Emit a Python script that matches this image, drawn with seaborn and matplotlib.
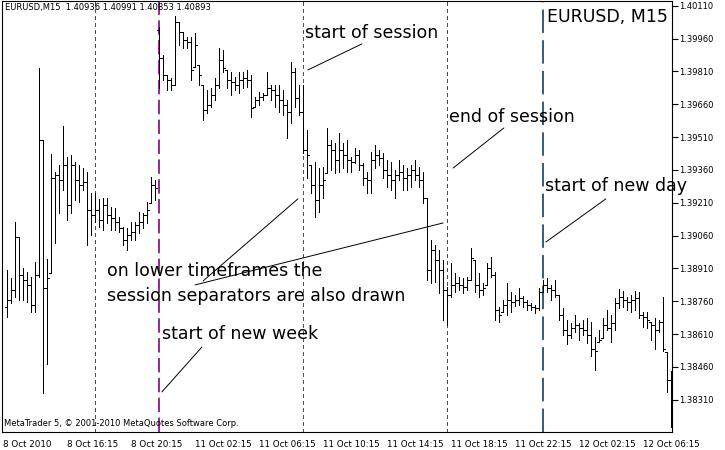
import matplotlib
matplotlib.use('Agg')
import matplotlib.pyplot as plt
import seaborn as sns
import pandas as pd

# EURUSD M15 bars, 8 Oct 2010 12:15 .. 12 Oct 2010 (bar index 0..166)
highs = [
    1.38903, 1.38867, 1.39123, 1.39054, 1.38912, 1.38894, 1.38871, 1.38940, 1.39826, 1.39497,
    1.38953, 1.39433, 1.39351, 1.39383, 1.39561, 1.39420, 1.39429, 1.39397, 1.39383, 1.39369,
    1.39351, 1.39255, 1.39255, 1.39228, 1.39232, 1.39232, 1.39191, 1.39186, 1.39145, 1.39100,
    1.39095, 1.39123, 1.39123, 1.39168, 1.39164, 1.39214, 1.39328, 1.39314, 1.40014, 1.39886,
    1.39794, 1.39781, 1.40064, 1.40036, 1.39991, 1.39968, 1.39968, 1.39986, 1.39840, 1.39749,
    1.39726, 1.39735, 1.39781, 1.39918, 1.39909, 1.39817, 1.39808, 1.39785, 1.39808, 1.39808,
    1.39817, 1.39794, 1.39694, 1.39717, 1.39712, 1.39808, 1.39749, 1.39749, 1.39749, 1.39726,
    1.39680, 1.39854, 1.39826, 1.39749, 1.39749, 1.39543, 1.39383, 1.39397, 1.39369, 1.39374,
    1.39552, 1.39497, 1.39484, 1.39529, 1.39484, 1.39497, 1.39420, 1.39461, 1.39452, 1.39392,
    1.39351, 1.39442, 1.39474, 1.39452, 1.39438, 1.39406, 1.39397, 1.39360, 1.39406, 1.39383,
    1.39369, 1.39383, 1.39406, 1.39374, 1.39351, 1.39232, 1.39040, 1.39017, 1.38995, 1.38949,
    1.38825, 1.38935, 1.38889, 1.38871, 1.38867, 1.38871, 1.39004, 1.38949, 1.38889, 1.38844,
    1.38935, 1.38963, 1.38894, 1.38734, 1.38766, 1.38844, 1.38803, 1.38789, 1.38821, 1.38784,
    1.38766, 1.38752, 1.38743, 1.38821, 1.38857, 1.38867, 1.38835, 1.38857, 1.38789, 1.38729,
    1.38675, 1.38661, 1.38697, 1.38661, 1.38675, 1.38684, 1.38666, 1.38597, 1.38629, 1.38684,
    1.38720, 1.38697, 1.38775, 1.38816, 1.38807, 1.38780, 1.38789, 1.38807, 1.38803, 1.38711,
    1.38711, 1.38666, 1.38684, 1.38675, 1.38780, 1.38528, 1.38441,
]
lows = [
    1.38688, 1.38752, 1.38780, 1.38766, 1.38766, 1.38757, 1.38711, 1.38711, 1.38871, 1.38341,
    1.38473, 1.38889, 1.39027, 1.39164, 1.39269, 1.39132, 1.39164, 1.39223, 1.39214, 1.39269,
    1.39017, 1.39063, 1.39123, 1.39100, 1.39086, 1.39118, 1.39086, 1.39086, 1.39077, 1.39017,
    1.38995, 1.39040, 1.39040, 1.39072, 1.39095, 1.39118, 1.39209, 1.39223, 1.39735, 1.39771,
    1.39726, 1.39726, 1.39749, 1.39931, 1.39918, 1.39918, 1.39771, 1.39831, 1.39749, 1.39589,
    1.39621, 1.39648, 1.39680, 1.39735, 1.39808, 1.39735, 1.39703, 1.39726, 1.39712, 1.39735,
    1.39739, 1.39602, 1.39648, 1.39657, 1.39680, 1.39703, 1.39680, 1.39648, 1.39625, 1.39611,
    1.39506, 1.39575, 1.39648, 1.39611, 1.39438, 1.39324, 1.39255, 1.39145, 1.39168, 1.39232,
    1.39346, 1.39360, 1.39346, 1.39351, 1.39369, 1.39351, 1.39351, 1.39392, 1.39360, 1.39292,
    1.39255, 1.39255, 1.39369, 1.39383, 1.39324, 1.39283, 1.39269, 1.39232, 1.39314, 1.39269,
    1.39269, 1.39283, 1.39314, 1.39283, 1.39209, 1.38857, 1.38844, 1.38848, 1.38798, 1.38675,
    1.38652, 1.38780, 1.38803, 1.38812, 1.38798, 1.38812, 1.38857, 1.38803, 1.38780, 1.38789,
    1.38835, 1.38871, 1.38675, 1.38666, 1.38711, 1.38697, 1.38711, 1.38739, 1.38743, 1.38734,
    1.38720, 1.38720, 1.38707, 1.38720, 1.38803, 1.38803, 1.38766, 1.38780, 1.38675, 1.38606,
    1.38563, 1.38592, 1.38620, 1.38583, 1.38606, 1.38570, 1.38509, 1.38446, 1.38574, 1.38592,
    1.38629, 1.38574, 1.38629, 1.38729, 1.38734, 1.38720, 1.38711, 1.38720, 1.38684, 1.38643,
    1.38638, 1.38583, 1.38541, 1.38620, 1.38532, 1.38346, 1.38186,
]
opens = [
    1.38734, 1.38766, 1.38812, 1.39054, 1.38880, 1.38857, 1.38835, 1.38743, 1.38880, 1.39497,
    1.38821, 1.38889, 1.39324, 1.39337, 1.39314, 1.39383, 1.39200, 1.39383, 1.39314, 1.39292,
    1.39305, 1.39177, 1.39154, 1.39177, 1.39132, 1.39200, 1.39154, 1.39141, 1.39123, 1.39095,
    1.39040, 1.39063, 1.39077, 1.39109, 1.39123, 1.39154, 1.39209, 1.39292, 1.40000, 1.39872,
    1.39794, 1.39771, 1.39749, 1.40036, 1.39991, 1.39954, 1.39945, 1.39831, 1.39840, 1.39749,
    1.39634, 1.39657, 1.39703, 1.39749, 1.39863, 1.39817, 1.39771, 1.39762, 1.39749, 1.39771,
    1.39781, 1.39771, 1.39648, 1.39680, 1.39694, 1.39703, 1.39735, 1.39726, 1.39703, 1.39680,
    1.39657, 1.39625, 1.39808, 1.39689, 1.39625, 1.39452, 1.39383, 1.39292, 1.39223, 1.39292,
    1.39346, 1.39474, 1.39452, 1.39406, 1.39452, 1.39429, 1.39406, 1.39397, 1.39429, 1.39383,
    1.39324, 1.39314, 1.39406, 1.39429, 1.39415, 1.39360, 1.39337, 1.39314, 1.39337, 1.39351,
    1.39324, 1.39337, 1.39360, 1.39337, 1.39314, 1.39232, 1.38903, 1.38995, 1.38949, 1.38903,
    1.38812, 1.38789, 1.38835, 1.38844, 1.38835, 1.38825, 1.38857, 1.38949, 1.38835, 1.38812,
    1.38835, 1.38912, 1.38880, 1.38720, 1.38711, 1.38743, 1.38766, 1.38757, 1.38766, 1.38775,
    1.38757, 1.38743, 1.38734, 1.38729, 1.38803, 1.38835, 1.38821, 1.38812, 1.38789, 1.38697,
    1.38629, 1.38606, 1.38638, 1.38652, 1.38638, 1.38629, 1.38606, 1.38541, 1.38574, 1.38592,
    1.38652, 1.38638, 1.38661, 1.38752, 1.38780, 1.38766, 1.38757, 1.38766, 1.38775, 1.38697,
    1.38688, 1.38666, 1.38652, 1.38629, 1.38666, 1.38528, 1.38400,
]
closes = [
    1.38766, 1.38812, 1.39054, 1.38880, 1.38857, 1.38835, 1.38743, 1.38880, 1.39497, 1.38821,
    1.38867, 1.39324, 1.39337, 1.39314, 1.39383, 1.39200, 1.39383, 1.39314, 1.39292, 1.39305,
    1.39177, 1.39154, 1.39177, 1.39132, 1.39200, 1.39154, 1.39141, 1.39123, 1.39095, 1.39040,
    1.39063, 1.39077, 1.39109, 1.39123, 1.39154, 1.39177, 1.39292, 1.39278, 1.39872, 1.39794,
    1.39771, 1.39749, 1.40036, 1.39991, 1.39954, 1.39945, 1.39817, 1.39931, 1.39794, 1.39634,
    1.39657, 1.39703, 1.39749, 1.39863, 1.39826, 1.39771, 1.39762, 1.39749, 1.39771, 1.39781,
    1.39771, 1.39643, 1.39680, 1.39694, 1.39703, 1.39735, 1.39726, 1.39703, 1.39680, 1.39657,
    1.39625, 1.39808, 1.39689, 1.39625, 1.39452, 1.39429, 1.39292, 1.39223, 1.39292, 1.39314,
    1.39474, 1.39452, 1.39406, 1.39452, 1.39429, 1.39406, 1.39397, 1.39429, 1.39383, 1.39324,
    1.39314, 1.39406, 1.39429, 1.39415, 1.39360, 1.39337, 1.39314, 1.39337, 1.39351, 1.39324,
    1.39337, 1.39360, 1.39337, 1.39314, 1.39232, 1.38903, 1.38995, 1.38949, 1.38903, 1.38812,
    1.38789, 1.38835, 1.38844, 1.38835, 1.38825, 1.38857, 1.38958, 1.38835, 1.38812, 1.38821,
    1.38912, 1.38880, 1.38720, 1.38697, 1.38743, 1.38766, 1.38757, 1.38766, 1.38775, 1.38757,
    1.38743, 1.38734, 1.38729, 1.38803, 1.38835, 1.38821, 1.38812, 1.38789, 1.38697, 1.38629,
    1.38606, 1.38638, 1.38652, 1.38638, 1.38629, 1.38606, 1.38541, 1.38532, 1.38583, 1.38652,
    1.38638, 1.38661, 1.38752, 1.38780, 1.38766, 1.38757, 1.38766, 1.38775, 1.38697, 1.38688,
    1.38675, 1.38652, 1.38629, 1.38666, 1.38541, 1.38400, 1.38309,
]

# time axis labels (bar index where each label sits)
xtick_bars = [-1, 15, 31, 47, 63, 79, 95, 111, 127, 143, 159]
xtick_labels = ['8 Oct 2010', '8 Oct 16:15', '8 Oct 20:15', '11 Oct 02:15', '11 Oct 06:15',
                '11 Oct 10:15', '11 Oct 14:15', '11 Oct 18:15', '11 Oct 22:15',
                '12 Oct 02:15', '12 Oct 06:15']
ytick_vals = [1.40110, 1.39960, 1.39810, 1.39660, 1.39510, 1.39360, 1.39210,
              1.39060, 1.38910, 1.38760, 1.38610, 1.38460, 1.38310]

# separators (bar index)
session_end = [22, 110]
session_start = [74]
week_start = [38]
day_start = [134]

df = pd.DataFrame({'bar': range(len(highs)), 'open': opens, 'high': highs,
                   'low': lows, 'close': closes})

sns.set_style('white')
plt.rcParams['font.family'] = ['DejaVu Sans']
plt.rcParams['text.color'] = 'black'
plt.rcParams['xtick.color'] = 'black'
plt.rcParams['ytick.color'] = 'black'

fig = plt.figure(figsize=(7.25, 4.5), dpi=100)
ax = fig.add_axes([2 / 725, 18 / 450, 670 / 725, 431 / 450])

# separators
px = 0.72
for b in session_end:
    ax.axvline(b, color='#9a2f1f', lw=px, ls=(0, (3, 3)), antialiased=False, zorder=1)
for b in session_start:
    ax.axvline(b, color='#2f6a2f', lw=px, ls=(0, (3, 3)), antialiased=False, zorder=1)
for b in week_start:
    ax.axvline(b, color='#8a1a8a', lw=1.3, ls=(0, (8, 3)), zorder=1)
for b in day_start:
    ax.axvline(b, color='#24506e', lw=1.3, ls=(0, (13, 4)), zorder=1)

# OHLC bars, 1px wide
ax.vlines(df['bar'], df['low'], df['high'], color='black', lw=px, antialiased=False, zorder=3)
ax.hlines(df['open'], df['bar'] - 0.5, df['bar'], color='black', lw=px, antialiased=False, zorder=3)
ax.hlines(df['close'], df['bar'], df['bar'] + 0.5, color='black', lw=px, antialiased=False, zorder=3)

ax.set_xlim(-1.175, 166.33)
ax.set_ylim(1.38163, 1.40132)

# axes
for s in ax.spines.values():
    s.set_color('black')
    s.set_linewidth(0.8)
ax.yaxis.tick_right()
ax.set_yticks(ytick_vals)
ax.set_yticklabels([f'{v:.5f}' for v in ytick_vals])
ax.set_xticks(xtick_bars)
ax.set_xticklabels(xtick_labels, ha='left')
ax.tick_params(axis='y', direction='out', length=4, width=0.8, labelsize=6, pad=1)
ax.tick_params(axis='x', direction='out', length=4, width=0.8, labelsize=6.3, pad=2)
ax.set_xlabel('')
ax.set_ylabel('')

# annotations
big = 12.5
ax.text(74.6, 1.39986, 'start of session', fontsize=big, va='center', ha='left')
ax.plot([75.3, 88.8], [1.39817, 1.39936], color='black', lw=0.7)

ax.text(110.6, 1.39602, 'end of session', fontsize=big, va='center', ha='left')
ax.plot([111.6, 124.3], [1.39369, 1.39552], color='black', lw=0.7)

ax.text(134.6, 1.39287, 'start of new day', fontsize=big, va='center', ha='left')
ax.plot([134.8, 149.8], [1.39031, 1.39228], color='black', lw=0.7)

ax.text(38.8, 1.38611, 'start of new week', fontsize=big, va='center', ha='left')
ax.plot([38.8, 48.8], [1.38346, 1.38551], color='black', lw=0.7)

ax.text(25.1, 1.38898, 'on lower timeframes the', fontsize=big, va='center', ha='left')
ax.text(25.1, 1.38784, 'session separators are also drawn', fontsize=big, va='center', ha='left')
ax.plot([49.1, 72.8], [1.38853, 1.39228], color='black', lw=0.7)
ax.plot([47.1, 109.1], [1.38835, 1.39118], color='black', lw=0.7)

ax.text(0.994, 0.963, 'EURUSD, M15', transform=ax.transAxes, fontsize=big,
        va='center', ha='right')
ax.text(0.0045, 0.984, 'EURUSD,M15  1.40936 1.40991 1.40853 1.40893', transform=ax.transAxes,
        fontsize=6, va='center', ha='left')
ax.text(0.003, 0.0186, 'MetaTrader 5, \u00a9 2001-2010 MetaQuotes Software Corp.',
        transform=ax.transAxes, fontsize=6, va='center', ha='left')

fig.savefig('out.png', dpi=100)
